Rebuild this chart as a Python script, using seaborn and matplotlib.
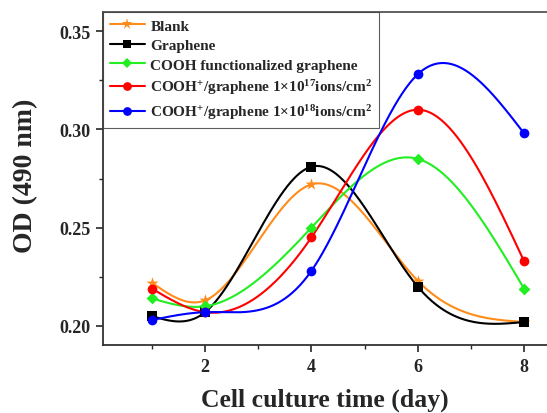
import numpy as np
import pandas as pd
import matplotlib
matplotlib.use("Agg")
import matplotlib.pyplot as plt
import seaborn as sns
from matplotlib.lines import Line2D
from matplotlib.ticker import MultipleLocator

days = [1, 2, 4, 6, 8]
blank = [0.222, 0.213, 0.272, 0.223, 0.202]
graphene = [0.205, 0.207, 0.281, 0.220, 0.202]
cooh = [0.214, 0.210, 0.250, 0.285, 0.219]
cooh_1e17 = [0.219, 0.207, 0.245, 0.310, 0.233]
cooh_1e18 = [0.203, 0.207, 0.228, 0.328, 0.298]

labels = ["Blank", "Graphene", "COOH functionalized graphene",
          r"COOH$^{+}$/graphene 1$\times$10$^{17}$ions/cm$^{2}$",
          r"COOH$^{+}$/graphene 1$\times$10$^{18}$ions/cm$^{2}$"]
series = [blank, graphene, cooh, cooh_1e17, cooh_1e18]
colors = ["#FF8C1A", "#000000", "#22EE22", "#FF0000", "#0000FF"]
markers = ["*", "s", "D", "o", "o"]
msizes = [9, 6.5, 6, 7, 7]


def natural_spline(x, y, xs):
    x = np.asarray(x, float); y = np.asarray(y, float)
    n = len(x)
    h = np.diff(x)
    A = np.zeros((n, n)); b = np.zeros(n)
    A[0, 0] = 1; A[-1, -1] = 1
    for i in range(1, n - 1):
        A[i, i - 1] = h[i - 1]
        A[i, i] = 2 * (h[i - 1] + h[i])
        A[i, i + 1] = h[i]
        b[i] = 3 * ((y[i + 1] - y[i]) / h[i] - (y[i] - y[i - 1]) / h[i - 1])
    c = np.linalg.solve(A, b)
    out = np.empty_like(xs)
    for k, xv in enumerate(xs):
        i = min(max(np.searchsorted(x, xv) - 1, 0), n - 2)
        dx = xv - x[i]
        bi = (y[i + 1] - y[i]) / h[i] - h[i] * (2 * c[i] + c[i + 1]) / 3
        di = (c[i + 1] - c[i]) / (3 * h[i])
        out[k] = y[i] + bi * dx + c[i] * dx ** 2 + di * dx ** 3
    return out


sns.set_theme(style="ticks")
plt.rcParams['font.family'] = ['Liberation Serif', 'DejaVu Serif']
plt.rcParams['font.weight'] = 'bold'
plt.rcParams['mathtext.fontset'] = 'custom'
plt.rcParams['mathtext.rm'] = 'Liberation Serif:bold'
plt.rcParams['mathtext.it'] = 'Liberation Serif:bold'
plt.rcParams['mathtext.bf'] = 'Liberation Serif:bold'

fig = plt.figure(figsize=(5.47, 4.14), dpi=100)
ax = fig.add_axes([103 / 547, 1 - 346 / 414, (550.6 - 103) / 547, (346 - 13) / 414])

xs = np.linspace(1, 8, 300)
handles = []
for lab, ys, col, mk, ms in zip(labels, series, colors, markers, msizes):
    curve = pd.DataFrame({"x": xs, "y": natural_spline(days, ys, xs)})
    pts = pd.DataFrame({"x": days, "y": ys})
    sns.lineplot(data=curve, x="x", y="y", ax=ax, color=col, lw=1.5, zorder=2)
    sns.scatterplot(data=pts, x="x", y="y", ax=ax, color=col, marker=mk,
                    s=ms ** 2, edgecolor=col, linewidth=0, zorder=3)
    handles.append(Line2D([0], [0], color=col, lw=1.5, marker=mk, markersize=ms * 0.9,
                          markeredgewidth=0))

ax.set_xlim(0.08, 8.5)
ax.set_ylim(0.1903, 0.3597)
ax.xaxis.set_major_locator(MultipleLocator(2))
ax.xaxis.set_minor_locator(MultipleLocator(1))
ax.yaxis.set_major_locator(MultipleLocator(0.05))
ax.yaxis.set_minor_locator(MultipleLocator(0.025))
ax.yaxis.set_major_formatter(matplotlib.ticker.FormatStrFormatter('%.2f'))
ax.tick_params(which='major', direction='out', length=5, width=1.2, labelsize=13, pad=4)
ax.tick_params(which='minor', direction='out', length=3, width=1.0)
for s in ['left', 'bottom']:
    ax.spines[s].set_linewidth(1.3)
    ax.spines[s].set_color('#333333')
ax.spines['top'].set_linewidth(1.3)
ax.spines['top'].set_color('#555555')
for t in ax.get_xticklabels() + ax.get_yticklabels():
    t.set_fontweight('bold')

ax.set_xlabel("Cell culture time (day)", fontsize=18.5, fontweight='bold')
ax.set_ylabel("OD (490 nm)", fontsize=20, fontweight='bold')
ax.xaxis.set_label_coords(0.496, -0.162)
ax.yaxis.set_label_coords(-0.174, 0.51)
ax.xaxis.label.set_va('center')
ax.yaxis.label.set_va('center')

leg = ax.legend(handles, labels, loc='upper left', bbox_to_anchor=(0, 1),
                frameon=True, fancybox=False, fontsize=11, handlelength=2.3,
                handletextpad=0.35, labelspacing=0.38, borderaxespad=0,
                borderpad=0.45)
leg.get_frame().set_edgecolor('#333333')
leg.get_frame().set_linewidth(0.8)
for t in leg.get_texts():
    t.set_fontweight('bold')

fig.savefig("out.png", dpi=100)
